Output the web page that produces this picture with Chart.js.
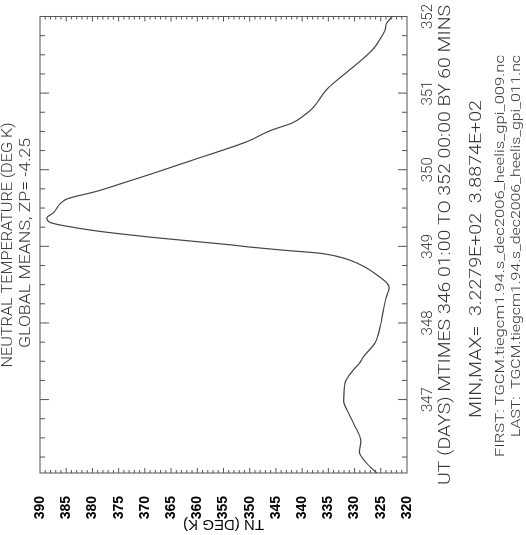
<!DOCTYPE html>
<html lang="en">
<head>
    <meta charset="UTF-8">
    <title>Neutral Temperature Global Means</title>
    <style>
        body {
            margin: 0;
            background-color: #fff;
            overflow: hidden;
        }
        /* chart is drawn landscape, then turned a quarter turn to the left */
        #wrap {
            position: absolute;
            left: 0;
            top: 0;
            width: 535px;
            height: 526px;
            transform-origin: 0 0;
            transform: translate(0, 535px) rotate(-90deg);
        }
    </style>
</head>
<body>
    <div id="wrap">
        <canvas id="chart" width="535" height="526"></canvas>
    </div>

    <script src="https://cdn.jsdelivr.net/npm/chart.js"></script>

    <script>
        // UT in days
        const utDays = [346.04, 346.17, 346.32, 346.45, 346.69, 346.87, 346.98, 347.22, 347.39, 347.48,
                        347.56, 347.74, 347.96, 348.17, 348.35, 348.46, 348.52, 348.63, 348.74, 348.82,
                        348.87, 348.91, 348.95, 348.99, 349.02, 349.11, 349.20, 349.27, 349.31, 349.37,
                        349.44, 349.56, 349.62, 349.72, 349.83, 349.94, 350.13, 350.37, 350.51, 350.61,
                        350.70, 350.79, 351.07, 351.27, 351.58, 351.71, 351.82, 351.91, 352.00];
        // global mean TN (deg K)
        const tnValues = [325.7, 327.7, 329.1, 328.8, 330.2, 331.5, 332.1, 331.8, 330.2, 329.0,
                          328.3, 326.1, 325.1, 324.5, 323.9, 323.4, 323.8, 325.8, 328.3, 330.9,
                          333.4, 336.6, 343.6, 349.9, 353.7, 367.5, 379.1, 385.5, 388.0, 388.7,
                          387.4, 386.1, 384.8, 379.1, 374.0, 369.0, 360.7, 350.4, 346.1, 341.9,
                          339.8, 338.2, 335.0, 331.5, 326.4, 325.1, 324.2, 323.9, 322.8];

        const dayTicks = [347, 348, 349, 350, 351, 352];
        const tnTicks = [390, 385, 380, 375, 370, 365, 360, 355, 350, 345, 340, 335, 330, 325, 320];

        const titleLines = ['NEUTRAL TEMPERATURE (DEG K)', 'GLOBAL MEANS, ZP= -4.25'];
        const xLabel = 'UT (DAYS) MTIMES 346 01:00 TO 352 00:00 BY 60 MINS';
        const minMaxLabel = 'MIN,MAX=  3.2279E+02  3.8874E+02';
        const firstFile = 'FIRST: TGCM.tiegcm1.94.s_dec2006_heelis_gpi_009.nc';
        const lastFile = 'LAST:  TGCM.tiegcm1.94.s_dec2006_heelis_gpi_011.nc';

        const thinFont = 'Roboto, "DejaVu Sans", sans-serif';

        // draw text squeezed/stretched to a given width
        function fitText(ctx, text, x, y, width, font, align) {
            ctx.save();
            ctx.font = font;
            const w = ctx.measureText(text).width;
            const sx = width / w;
            ctx.translate(x, y);
            ctx.scale(sx, 1);
            ctx.textBaseline = 'middle';
            ctx.textAlign = align || 'center';
            ctx.fillText(text, 0, 0);
            ctx.restore();
        }

        // frame, inward ticks on all sides, and the label block
        const framePlugin = {
            id: 'frame',
            afterDraw(chart) {
                const { ctx, chartArea: a, scales: { x, y } } = chart;
                ctx.save();
                ctx.strokeStyle = '#555';
                ctx.lineWidth = 1;
                ctx.strokeRect(a.left, a.top, a.right - a.left, a.bottom - a.top);

                ctx.beginPath();
                for (let t = 346.25; t < 352; t += 0.25) {
                    const px = x.getPixelForValue(t);
                    const len = Number.isInteger(t) ? 9 : 5;
                    ctx.moveTo(px, a.bottom);
                    ctx.lineTo(px, a.bottom - len);
                    ctx.moveTo(px, a.top);
                    ctx.lineTo(px, a.top + len);
                }
                for (let v = 321; v < 390; v++) {
                    const py = y.getPixelForValue(v);
                    const len = v % 5 === 0 ? 5 : 3;
                    ctx.moveTo(a.left, py);
                    ctx.lineTo(a.left + len, py);
                    ctx.moveTo(a.right, py);
                    ctx.lineTo(a.right - len, py);
                }
                ctx.stroke();

                ctx.fillStyle = '#333';
                fitText(ctx, titleLines[0], 290, 8, 245, '300 15px ' + thinFont);
                fitText(ctx, titleLines[1], 292, 26, 210, '300 15px ' + thinFont);
                fitText(ctx, xLabel, 290, 446, 480, '300 16px ' + thinFont);
                fitText(ctx, minMaxLabel, 276, 477, 318, '300 16px ' + thinFont);
                fitText(ctx, firstFile, 279, 501, 402, '300 12px ' + thinFont);
                fitText(ctx, lastFile, 480, 517, 382, '300 12px ' + thinFont, 'right');
                ctx.restore();
            }
        };

        new Chart(document.getElementById('chart').getContext('2d'), {
            type: 'line',
            data: {
                datasets: [{
                    data: utDays.map((t, i) => ({ x: t, y: tnValues[i] })),
                    borderColor: '#444',
                    borderWidth: 1.2,
                    pointRadius: 0,
                    cubicInterpolationMode: 'monotone',
                    fill: false
                }]
            },
            options: {
                responsive: false,
                animation: false,
                layout: { padding: { left: 0, top: 40, right: 14, bottom: 0 } },
                plugins: {
                    legend: { display: false },
                    tooltip: { enabled: false }
                },
                scales: {
                    x: {
                        type: 'linear',
                        min: 346 + 1 / 24,
                        max: 352,
                        afterBuildTicks: s => { s.ticks = dayTicks.map(v => ({ value: v })); },
                        afterFit: s => { s.height = 119; },
                        grid: { display: false },
                        border: { display: false },
                        ticks: {
                            padding: 4,
                            color: '#333',
                            autoSkip: false,
                            maxRotation: 0,
                            font: { family: thinFont, size: 15, weight: 300 },
                            callback: v => String(v)
                        }
                    },
                    y: {
                        min: 320,
                        max: 390,
                        afterBuildTicks: s => { s.ticks = tnTicks.map(v => ({ value: v })); },
                        afterFit: s => { s.width = 62; },
                        grid: { display: false },
                        border: { display: false },
                        ticks: {
                            padding: 15,
                            color: '#000',
                            font: { family: '"Liberation Sans", Arial, sans-serif', size: 14, weight: 'bold' }
                        },
                        title: {
                            display: true,
                            text: 'TN (DEG K)',
                            color: '#000',
                            font: { family: '"Liberation Sans", Arial, sans-serif', size: 15 },
                            padding: { top: 2, bottom: 0 }
                        }
                    }
                }
            },
            plugins: [framePlugin]
        });
    </script>
</body>
</html>
